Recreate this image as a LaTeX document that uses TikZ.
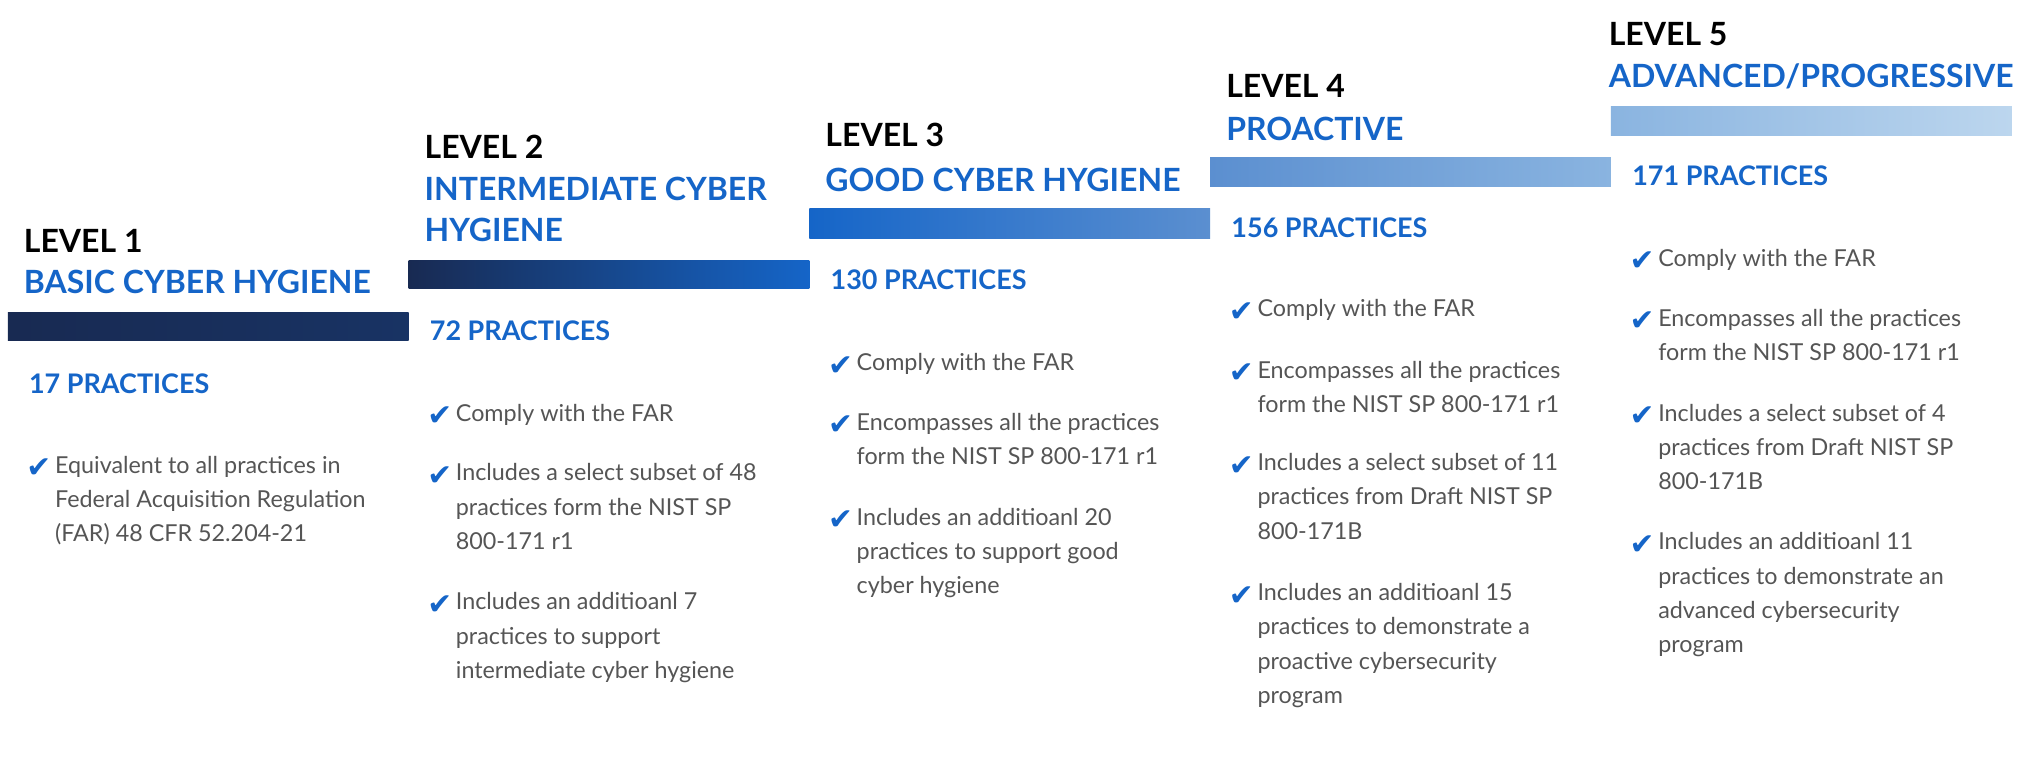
\documentclass[tikz,border=0pt]{standalone}
\usepackage{fontspec}
\setmainfont{Lato}
\newfontfamily\symfont{DejaVu Sans}
\definecolor{navy}{HTML}{182A52}
\definecolor{lvlblue}{HTML}{1565C8}
\definecolor{midblue}{HTML}{5B8FD0}
\definecolor{paleblue}{HTML}{8AB4E0}
\definecolor{iceblue}{HTML}{BCD6EE}
\definecolor{bodygray}{HTML}{555555}
\tikzset{
  lvltitle/.style={anchor=west, inner sep=0pt, font=\fontsize{14}{16}\selectfont\bfseries},
  lvlname/.style={lvltitle, text=lvlblue},
  practices/.style={anchor=west, inner sep=0pt, text=lvlblue, font=\fontsize{11.8}{14}\selectfont\bfseries},
  item/.style={anchor=north west, inner sep=0pt, align=left, text=bodygray,
    font=\fontsize{10.2}{15}\selectfont},
  tick/.style={anchor=west, inner sep=0pt, text=lvlblue, font=\symfont\bfseries\fontsize{13}{13}\selectfont}
}
\newcommand{\checkitem}[4]{% name, x, y, text
  \node[item] (#1) at (#2+22,#3-9) {#4};
  \node[tick] (#1t) at (#2,#3+1) {✔};}
\begin{document}
\begin{tikzpicture}[x=0.02cm,y=-0.02cm]
\useasboundingbox (0,0) rectangle (1560,585);
%
% Level 1
\node[lvltitle] (l1) at (18,185) {LEVEL 1};
\node[lvlname] (l1n) at (18,217) {BASIC CYBER HYGIENE};
\shade[left color=navy, right color=navy!85!lvlblue] (6,240) rectangle (314,262);
\node[practices] (p1) at (22,295) {17 PRACTICES};
\checkitem{b11}{20}{359}{Equivalent to all practices in\\Federal Acquisition Regulation\\(FAR) 48 CFR 52.204-21}
%
% Level 2
\node[lvltitle] (l2) at (326,113) {LEVEL 2};
\node[lvlname, align=left, anchor=north west] (l2n) at (326,136) {INTERMEDIATE CYBER\\[2pt]HYGIENE};
\shade[left color=navy, right color=lvlblue] (314,200) rectangle (622,222);
\node[practices] (p2) at (330,254) {72 PRACTICES};
\checkitem{b21}{328}{319}{Comply with the FAR}
\checkitem{b22}{328}{365}{Includes a select subset of 48\\practices form the NIST SP\\800-171 r1}
\checkitem{b23}{328}{464}{Includes an additioanl 7\\practices to support\\intermediate cyber hygiene}
%
% Level 3
\node[lvltitle] (l3) at (634,104) {LEVEL 3};
\node[lvlname] (l3n) at (634,138) {GOOD CYBER HYGIENE};
\shade[left color=lvlblue, right color=midblue] (622,160) rectangle (930,183);
\node[practices] (p3) at (638,215) {130 PRACTICES};
\checkitem{b31}{636}{280}{Comply with the FAR}
\checkitem{b32}{636}{326}{Encompasses all the practices\\form the NIST SP 800-171 r1}
\checkitem{b33}{636}{399}{Includes an additioanl 20\\practices to support good\\cyber hygiene}
%
% Level 4
\node[lvltitle] (l4) at (942,66) {LEVEL 4};
\node[lvlname] (l4n) at (942,99) {PROACTIVE};
\shade[left color=midblue, right color=paleblue] (930,121) rectangle (1238,143);
\node[practices] (p4) at (946,175) {156 PRACTICES};
\checkitem{b41}{944}{239}{Comply with the FAR}
\checkitem{b42}{944}{286}{Encompasses all the practices\\form the NIST SP 800-171 r1}
\checkitem{b43}{944}{357}{Includes a select subset of 11\\practices from Draft NIST SP\\800-171B}
\checkitem{b44}{944}{457}{Includes an additioanl 15\\practices to demonstrate a\\proactive cybersecurity\\program}
%
% Level 5
\node[lvltitle] (l5) at (1236,26) {LEVEL 5};
\node[lvlname] (l5n) at (1236,59) {ADVANCED/PROGRESSIVE};
\shade[left color=paleblue, right color=iceblue] (1238,82) rectangle (1546,104);
\node[practices] (p5) at (1254,135) {171 PRACTICES};
\checkitem{b51}{1252}{200}{Comply with the FAR}
\checkitem{b52}{1252}{246}{Encompasses all the practices\\form the NIST SP 800-171 r1}
\checkitem{b53}{1252}{319}{Includes a select subset of 4\\practices from Draft NIST SP\\800-171B}
\checkitem{b54}{1252}{418}{Includes an additioanl 11\\practices to demonstrate an\\advanced cybersecurity\\program}
%
\end{tikzpicture}
\end{document}
